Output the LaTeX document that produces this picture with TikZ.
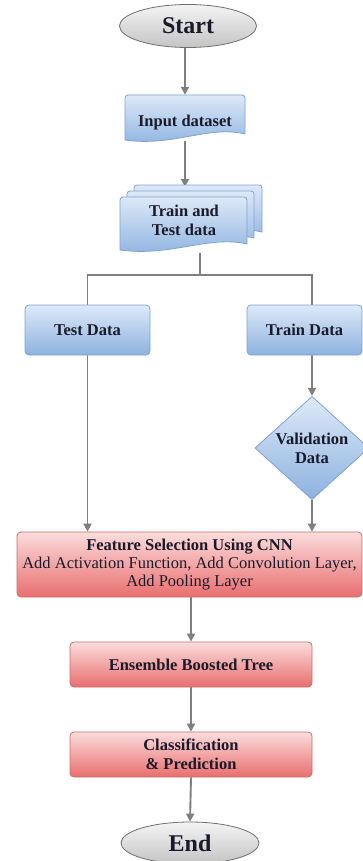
\documentclass[tikz,border=0pt]{standalone}
\usepackage{fontspec}
\setmainfont{Liberation Serif}
\usetikzlibrary{shapes.geometric,arrows.meta,backgrounds}

\definecolor{arrowgray}{HTML}{7F7F7F}
\definecolor{bluetop}{HTML}{DDE9F8}
\definecolor{bluebot}{HTML}{8DB2E0}
\definecolor{blueedge}{HTML}{7FA3D0}
\definecolor{redtop}{HTML}{FBDCDC}
\definecolor{redbot}{HTML}{E96E6E}
\definecolor{rededge}{HTML}{C96F6D}
\definecolor{graytop}{HTML}{F4F4F4}
\definecolor{graybot}{HTML}{C4C4C4}
\definecolor{grayedge}{HTML}{6F6F6F}
\definecolor{labeltext}{HTML}{1A1A2A}

\tikzset{
  x=1pt, y=-1pt,
  flow/.style={draw=arrowgray, line width=1.9pt,
    -{Triangle[length=8pt,width=8pt]}},
  link/.style={draw=arrowgray, line width=1.9pt},
  boxfont/.style={font=\bfseries\fontsize{16.5}{19}\selectfont, text=labeltext},
  bluebox/.style={rectangle, rounded corners=4pt, draw=blueedge, line width=0.8pt,
    top color=bluetop, bottom color=bluebot, boxfont, align=center, inner sep=1pt},
  redbox/.style={rectangle, rounded corners=4pt, draw=rededge, line width=0.8pt,
    top color=redtop, bottom color=redbot, boxfont, align=center, inner sep=1pt},
  terminal/.style={ellipse, draw=grayedge, line width=0.8pt,
    top color=graytop, bottom color=graybot, inner sep=0pt,
    font=\bfseries\fontsize{24}{26}\selectfont, text=labeltext},
  decision/.style={diamond, draw=blueedge, line width=0.8pt,
    top color=bluetop, bottom color=bluebot, inner sep=0pt, boxfont, align=center},
  doclabel/.style={rectangle, inner sep=0pt, boxfont, align=center}
}

% document outline with a wavy bottom edge: x1, top, x2, bottom-left
\newcommand\docshape[4]{%
  \shade[top color=bluetop, bottom color=bluebot, draw=blueedge, line width=0.8pt]
    (#1,#4) [rounded corners=3pt] -- (#1,#2) -- (#3,#2) [sharp corners] -- (#3,#4-6)
    .. controls ({#3-0.3*(#3-#1)},#4-15) and ({#1+0.4*(#3-#1)},#4+7) .. (#1,#4) -- cycle;}

\begin{document}
\begin{tikzpicture}
\useasboundingbox (0,0) rectangle (363,861);

% document shapes
\docshape{125}{95}{245}{140}
\docshape{134}{185}{262}{238}
\docshape{127}{191}{254}{244}
\docshape{120}{197}{247}{250}

% nodes
\node[terminal, minimum width=137, minimum height=43] (start) at (188,26) {Start};
\node[doclabel, minimum width=120, minimum height=46, text height=20pt] (inp) at (185,118) {Input dataset};
\node[doclabel, minimum width=127, minimum height=66] (tt) at (184,220) {Train and\\Test data};
\coordinate (split) at (200,275);
\node[bluebox, minimum width=125, minimum height=50] (test) at (87.5,330) {Test Data};
\node[bluebox, minimum width=115, minimum height=50] (train) at (304.5,330) {Train Data};
\node[decision, minimum width=114, minimum height=103] (val) at (312,448) {Validation\\Data};
\node[redbox, minimum width=345, minimum height=65] (feat) at (189.5,564.5)
  {Feature Selection Using CNN\\[-1pt]
   {\mdseries Add Activation Function, Add Convolution Layer,}\\[-1pt]
   {\mdseries Add Pooling Layer}};
\node[redbox, minimum width=242, minimum height=45] (ens) at (191,664.5) {Ensemble Boosted Tree};
\node[redbox, minimum width=242, minimum height=45] (cls) at (191,754.5) {Classification\\\& Prediction};
\node[terminal, minimum width=138, minimum height=42] (end) at (190,843) {End};

% connectors, kept beneath the shapes
\begin{scope}[on background layer]
  \fill[white] (0,0) rectangle (363,861);
  \draw[flow] (start.south -| inp.north) -- (inp.north);
  \draw[flow] (inp.south) -- (inp.south |- tt.north);
  \draw[link] (split |- tt.south) -- (split);
  \draw[link] (split) -| (test.north);
  \draw[link] (split) -| (val.north |- train.north);
  \draw[flow] (val.north |- train.south) -- (val.north);
  \draw[flow] (test.south) -- (test.south |- feat.north);
  \draw[flow] (val.south) -- (val.south |- feat.north);
  \draw[flow] (ens.north |- feat.south) -- (ens.north);
  \draw[flow] (ens.south) -- (cls.north);
  \draw[flow] (cls.south) -- (end.north);
\end{scope}
\end{tikzpicture}
\end{document}
